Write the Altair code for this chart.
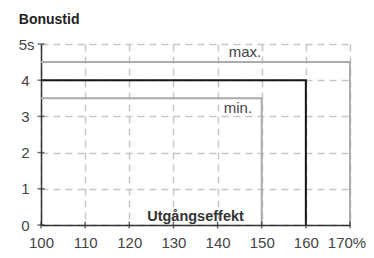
import altair as alt
import pandas as pd

# Data
series = ["max", "max", "max", "nom", "nom", "nom", "min", "min", "min"]
xs = [100, 170, 170, 100, 160, 160, 100, 150, 150]
ys = [4.5, 4.5, 0, 4, 4, 0, 3.5, 3.5, 0]
orders = [0, 1, 2, 0, 1, 2, 0, 1, 2]

x_ticks = [100, 110, 120, 130, 140, 150, 160, 170]
y_ticks = [0, 1, 2, 3, 4, 5]

label_text = ["max.", "min."]
label_x = [146.2, 144.6]
label_y = [4.78, 3.22]

df = pd.DataFrame({"s": series, "x": xs, "y": ys, "o": orders})
lab = pd.DataFrame({"t": label_text, "x": label_x, "y": label_y})
xt = pd.DataFrame({"x": x_ticks, "y": [0] * len(x_ticks)})
yt = pd.DataFrame({"y": y_ticks, "x": [100] * len(y_ticks)})

FONT = "Liberation Sans"

xscale = alt.Scale(domain=[100, 170], nice=False, zero=False)
yscale = alt.Scale(domain=[0, 5], nice=False)

xaxis = alt.Axis(
    values=x_ticks, grid=True, gridDash=[7, 5], gridColor="#c6c6c6", gridWidth=1.5,
    domainColor="#333333", domainWidth=1.5, ticks=False,
    labelFont=FONT, labelFontSize=15, labelColor="#444444", labelPadding=10,
    labelOverlap=False, labelFlush=False, labelBound=False,
    labelExpr="datum.value == 170 ? '170%' : datum.label",
    labelOffset={"expr": "datum.value == 170 ? -3.5 : 0"},
    title="Utgångseffekt", titleFont=FONT, titleFontSize=14.5, titleFontWeight="bold",
    titleColor="#333333", titleX=154, titleY=-5, titleAlign="center",
    titleBaseline="alphabetic",
)
yaxis = alt.Axis(
    values=y_ticks, grid=True, gridDash=[7, 5], gridColor="#c6c6c6", gridWidth=1.5,
    domainColor="#333333", domainWidth=1.5, ticks=False,
    labelFont=FONT, labelFontSize=15, labelColor="#444444",
    labelPadding={"expr": "datum.value == 5 ? 7 : 12"},
    labelOverlap=False, labelFlush=False, labelBound=False,
    labelExpr="datum.value == 5 ? '5s' : datum.label",
    title="Bonustid", titleFont=FONT, titleFontSize=14, titleFontWeight="bold",
    titleColor="#222222", titleAngle=0, titleX=-22.7, titleY=-20.7, titleAlign="left",
    titleBaseline="alphabetic",
)

X = lambda f: alt.X(f, scale=xscale, axis=xaxis)
Y = lambda f: alt.Y(f, scale=yscale, axis=yaxis)

base_lines = alt.Chart(df).mark_line(strokeWidth=2).encode(
    x=X("x:Q"),
    y=Y("y:Q"),
    detail="s:N",
    order="o:Q",
    color=alt.Color("s:N", scale=alt.Scale(domain=["max", "nom", "min"],
                                           range=["#ababab", "#151515", "#ababab"]), legend=None),
)

texts = alt.Chart(lab).mark_text(font=FONT, fontSize=15, color="#444444").encode(
    x=X("x:Q"), y=Y("y:Q"), text="t:N"
)

xtick = alt.Chart(xt).mark_tick(orient="vertical", size=7, thickness=1.5, color="#333333").encode(
    x=X("x:Q"), y=Y("y:Q")
)
ytick = alt.Chart(yt).mark_tick(orient="horizontal", size=7, thickness=1.5, color="#333333").encode(
    x=X("x:Q"), y=Y("y:Q")
)

chart = alt.layer(base_lines, texts, xtick, ytick).properties(
    width=309, height=181,
    autosize=alt.AutoSizeParams(type="none"),
    padding={"left": 33, "top": 36, "right": 16, "bottom": 25},
).configure_view(stroke=None)

chart.save("out.html", embed_options={"renderer": "svg", "actions": False})
